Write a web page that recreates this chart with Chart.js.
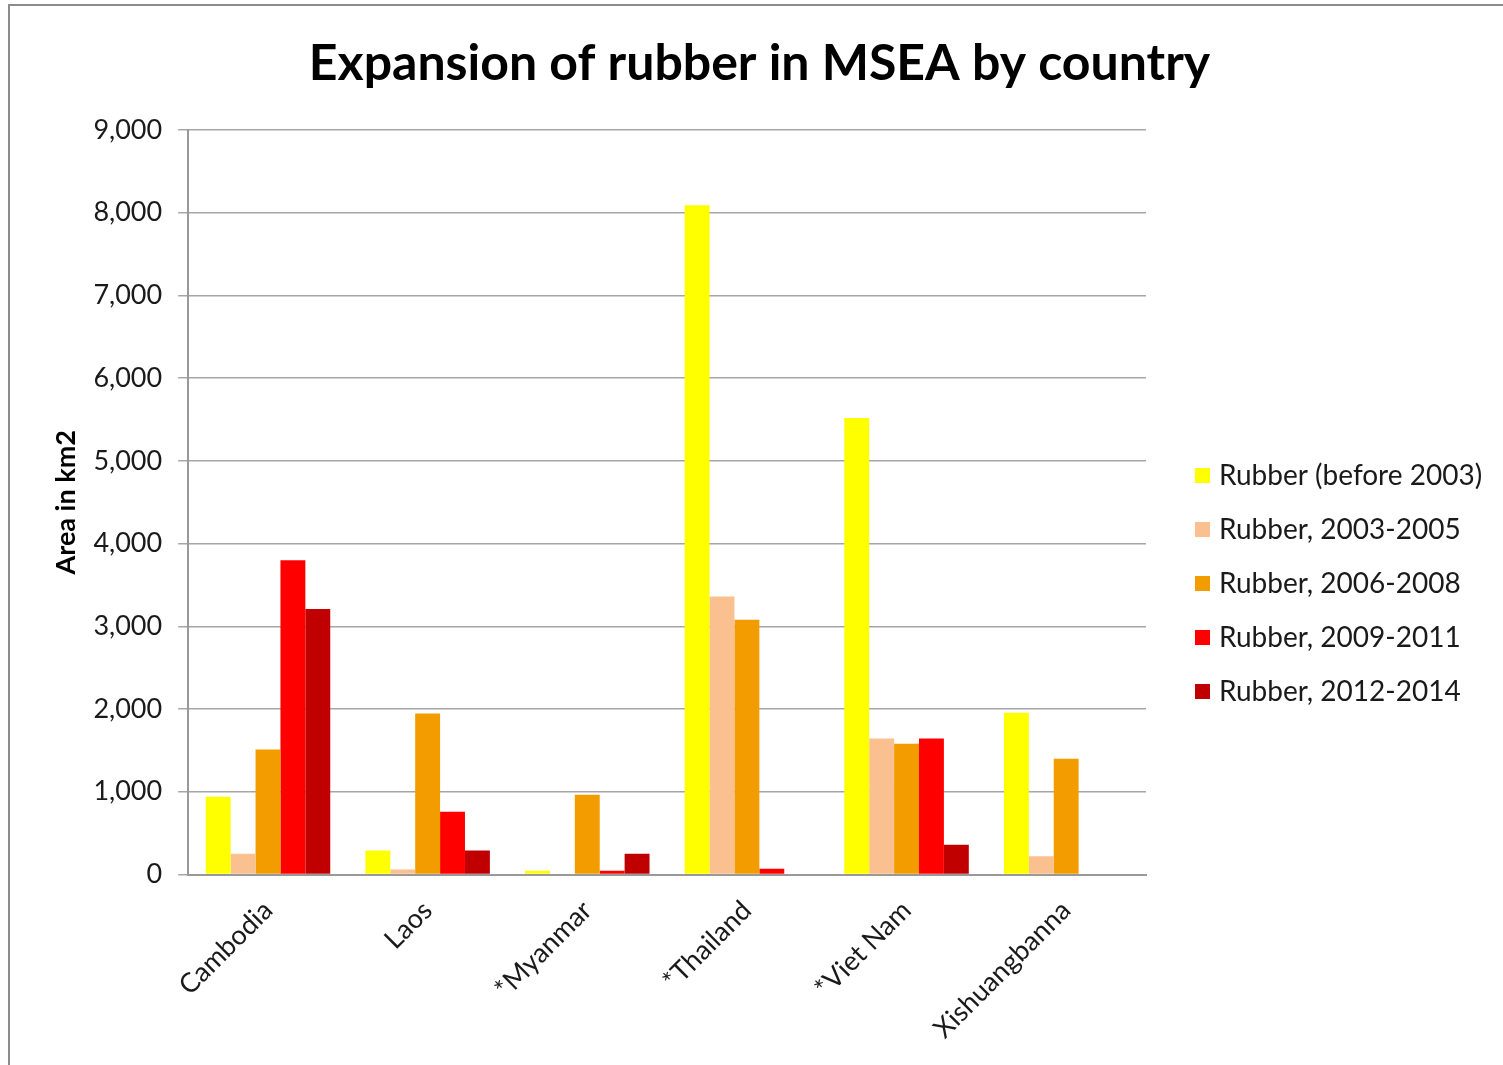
<!DOCTYPE html>
<html lang="en">
<head>
  <meta charset="UTF-8" />
  <title>Expansion of rubber in MSEA by country</title>
  <script src="https://cdn.jsdelivr.net/npm/chart.js"></script>
  <style>
    body {
      margin: 0;
      background: #fff;
      overflow: hidden;
    }
    .frame {
      position: absolute;
      left: 8px;
      top: 4px;
      width: 1600px;
      height: 1200px;
      border: 2px solid #8c8c8c;
    }
    .wrap {
      position: absolute;
      left: 0;
      top: 0;
      width: 1503px;
      height: 1065px;
    }
  </style>
</head>
<body>
  <div class="frame"></div>
  <div class="wrap">
    <canvas id="chart" width="1503" height="1065"></canvas>
  </div>

  <script>
    const countries = ['Cambodia', 'Laos', '*Myanmar', '*Thailand', '*Viet Nam', 'Xishuangbanna'];
    const seriesNames = [
      'Rubber (before 2003)',
      'Rubber, 2003-2005',
      'Rubber, 2006-2008',
      'Rubber, 2009-2011',
      'Rubber, 2012-2014'
    ];
    const seriesColors = ['#FFFF00', '#FAC090', '#F39C00', '#FF0000', '#C00000'];

    // area in km2, one array per period
    const before2003 = [940, 290, 45, 8090, 5520, 1955];
    const r2003to2005 = [250, 60, 0, 3360, 1645, 220];
    const r2006to2008 = [1510, 1945, 965, 3080, 1580, 1400];
    const r2009to2011 = [3800, 760, 45, 70, 1645, 0];
    const r2012to2014 = [3210, 290, 250, 0, 360, 0];

    const yTicks = [0, 1000, 2000, 3000, 4000, 5000, 6000, 7000, 8000, 9000];

    const seriesValues = [before2003, r2003to2005, r2006to2008, r2009to2011, r2012to2014];

    const TITLE = 'Expansion of rubber in MSEA by country';
    const FONT = 'Lato, "Liberation Sans", sans-serif';

    // title and legend drawn by hand so they can sit where we want them
    const decorations = {
      id: 'decorations',
      afterDraw(chart) {
        const ctx = chart.ctx;
        const area = chart.chartArea;
        ctx.save();

        ctx.font = 'bold 50px ' + FONT;
        ctx.fillStyle = '#000';
        ctx.textAlign = 'center';
        ctx.textBaseline = 'alphabetic';
        ctx.fillText(TITLE, chart.width / 2 + 8, 80);

        const x = area.right + 49;
        let y = 476;
        ctx.font = '28px ' + FONT;
        ctx.textBaseline = 'middle';
        ctx.textAlign = 'left';
        chart.data.datasets.forEach(ds => {
          ctx.fillStyle = ds.backgroundColor;
          ctx.fillRect(x, y - 8, 15, 15);
          ctx.fillStyle = '#1a1a1a';
          ctx.fillText(ds.label, x + 24, y);
          y += 54;
        });
        ctx.restore();
      }
    };

    const ctx = document.getElementById('chart').getContext('2d');
    new Chart(ctx, {
      type: 'bar',
      data: {
        labels: countries,
        datasets: seriesNames.map((name, i) => ({
          label: name,
          data: seriesValues[i],
          backgroundColor: seriesColors[i],
          borderWidth: 0,
          categoryPercentage: 0.78,
          barPercentage: 1
        }))
      },
      plugins: [decorations],
      options: {
        responsive: false,
        animation: false,
        layout: {
          padding: { left: 50, right: 357, top: 130, bottom: 0 }
        },
        plugins: {
          legend: { display: false },
          tooltip: { enabled: false },
          title: { display: false }
        },
        scales: {
          x: {
            grid: { display: false, drawTicks: false },
            border: { display: true, color: '#999', width: 2 },
            ticks: {
              color: '#1a1a1a',
              font: { family: FONT, size: 27 },
              maxRotation: 45,
              minRotation: 45,
              padding: 20
            }
          },
          y: {
            min: 0,
            max: 9000,
            afterBuildTicks: axis => {
              axis.ticks = yTicks.map(v => ({ value: v }));
            },
            grid: {
              color: '#a6a6a6',
              lineWidth: 1.5,
              tickLength: 10
            },
            border: { display: true, color: '#999', width: 2 },
            ticks: {
              color: '#1a1a1a',
              font: { family: FONT, size: 27 },
              padding: 16,
              callback: v => v.toLocaleString('en-US')
            },
            title: {
              display: true,
              text: 'Area in km2',
              color: '#000',
              font: { family: FONT, size: 27, weight: 'bold' },
              padding: { top: 0, bottom: -5 }
            }
          }
        }
      }
    });
  </script>
</body>
</html>
